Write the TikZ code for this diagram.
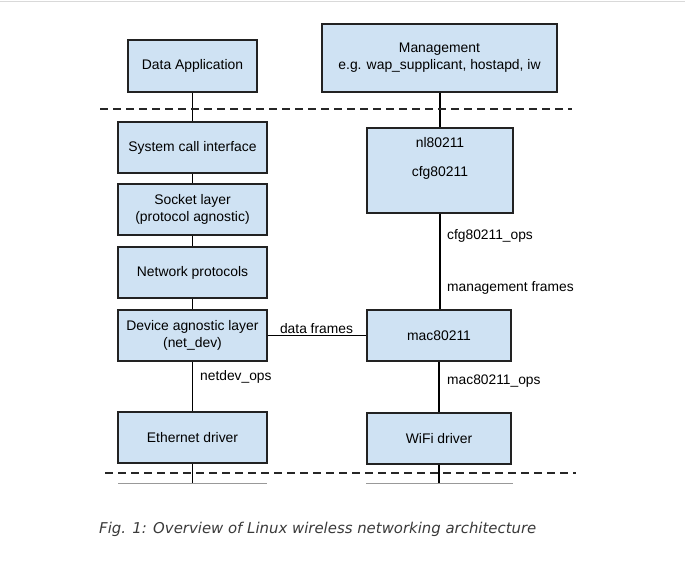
\documentclass[tikz,border=0pt]{standalone}
\usepackage{fontspec}
\setmainfont{Liberation Sans}
\newfontfamily\capfont{DejaVu Sans}
\definecolor{boxfill}{HTML}{CFE2F3}
\definecolor{boxdraw}{HTML}{222222}
\definecolor{captext}{HTML}{3A3A3A}
\begin{document}
\begin{tikzpicture}[x=1pt,y=-1pt,
  blk/.style={draw=boxdraw,fill=boxfill,line width=1.3pt,inner sep=0pt,align=center,
    font=\fontsize{13.9}{17}\selectfont},
  lbl/.style={inner sep=0pt,anchor=west,font=\fontsize{13.8}{16.5}\selectfont},
  conn/.style={line width=1.2pt,black},
  sep/.style={line width=1.5pt,dash pattern=on 8pt off 5pt,black!85},
  stub/.style={line width=0.8pt,black!40}]
\useasboundingbox (0,0) rectangle (685,563);
\draw[black!15,line width=1pt] (0,1) -- (685,1);
% top row
\node[blk,minimum width=129pt,minimum height=52pt] (app) at (192.5,66) {Data Application};
\node[blk,minimum width=235pt,minimum height=68pt] (mgmt) at (439.5,58) {Management\\e.g. wap\_supplicant, hostapd, iw};
% left column
\node[blk,minimum width=149pt,minimum height=51pt] (sys) at (192.5,147.5) {System call interface};
\node[blk,minimum width=149pt,minimum height=51pt] (sock) at (192.5,209.5) {Socket layer\\(protocol agnostic)};
\node[blk,minimum width=149pt,minimum height=51pt] (net) at (192.5,272.5) {Network protocols};
\node[blk,minimum width=149pt,minimum height=51pt] (dev) at (192.5,335.5) {Device agnostic layer\\(net\_dev)};
\node[blk,minimum width=149pt,minimum height=51pt] (eth) at (192.5,437.5) {Ethernet driver};
% right column
\node[blk,minimum width=146pt,minimum height=85pt] (cfg) at (440,170.5) {};
\node[inner sep=0pt,font=\fontsize{13.9}{17}\selectfont] (nltxt) at (440,143) {nl80211};
\node[inner sep=0pt,font=\fontsize{13.9}{17}\selectfont] (cfgtxt) at (440,173) {cfg80211};
\node[blk,minimum width=144pt,minimum height=51pt] (mac) at (439,335.5) {mac80211};
\node[blk,minimum width=144pt,minimum height=51pt] (wifi) at (439,438.5) {WiFi driver};
% separators
\coordinate (sepAl) at (100,109);
\coordinate (sepAr) at (572,109);
\coordinate (sepBl) at (105,473);
\coordinate (sepBr) at (576,473);
\coordinate (ethEnd) at (192.5,483);
\coordinate (wifiEnd) at (439,483);
\coordinate (stubAl) at (118,483);
\coordinate (stubAr) at (267,483);
\coordinate (stubBl) at (366,483);
\coordinate (stubBr) at (513,483);
% connectors
\draw[conn] (app) -- (sys);
\draw[conn] (mgmt.south -| cfg.north) -- (cfg.north);
\draw[conn] (sys) -- (sock);
\draw[conn] (sock) -- (net);
\draw[conn] (net) -- (dev);
\draw[conn] (dev) -- (eth);
\draw[conn] (dev) -- (mac);
\draw[conn] (cfg.south) -- (mac.north -| cfg.south);
\draw[conn] (mac) -- (wifi);
\draw[conn] (eth) -- (ethEnd);
\draw[conn] (wifi) -- (wifiEnd);
\draw[sep] (sepAl) -- (sepAr);
\draw[sep] (sepBl) -- (sepBr);
\draw[stub] (stubAl) -- (stubAr);
\draw[stub] (stubBl) -- (stubBr);
% labels
\node[lbl,anchor=south] (dfl) at (316.5,334) {data frames};
\node[lbl] (cfgops) at (447,236) {cfg80211\_ops};
\node[lbl] (mgf) at (447,288) {management frames};
\node[lbl] (ndops) at (200,377) {netdev\_ops};
\node[lbl] (macops) at (447,381) {mac80211\_ops};
% caption
\node[inner sep=0pt,anchor=west,text=captext,font=\capfont\itshape\fontsize{14.9}{18}\selectfont] (cap) at (99,529) {Fig. 1: Overview of Linux wireless networking architecture};
\end{tikzpicture}
\end{document}
